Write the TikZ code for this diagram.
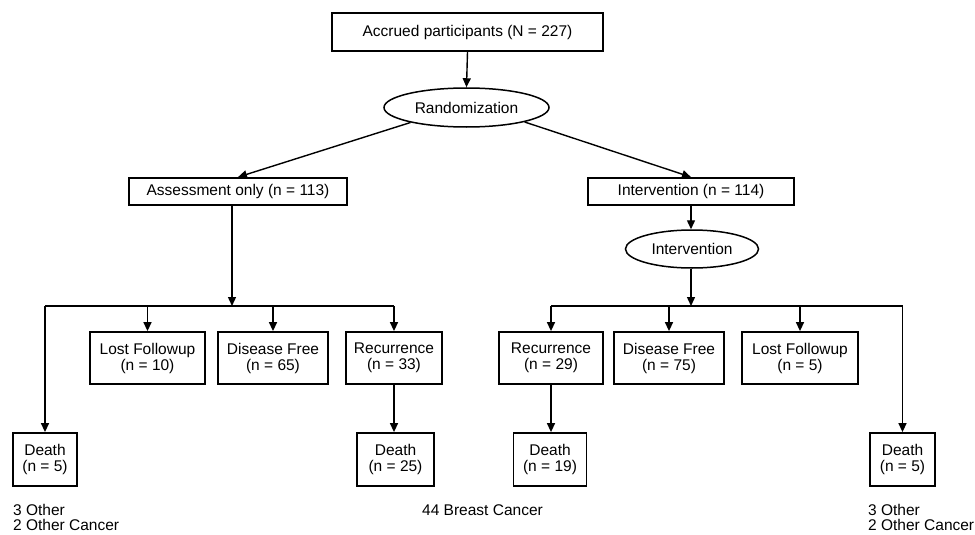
\documentclass[tikz,border=0pt]{standalone}
\usepackage{fontspec}
\setmainfont{Liberation Sans}
\usetikzlibrary{arrows.meta,shapes.geometric}
\begin{document}
\begin{tikzpicture}[x=1pt,y=-1pt,
  font=\fontsize{15.5}{16}\selectfont,
  box/.style={draw,line width=1.8pt,rectangle,inner sep=0pt,align=center},
  oval/.style={draw,line width=1.5pt,ellipse,inner sep=0pt},
  conn/.style={line width=1.4pt},
  arr/.style={conn,-{Triangle[length=9pt,width=8pt]}},
  note/.style={anchor=north west,align=left,inner sep=0pt,font=\fontsize{15.5}{15}\selectfont}]
\useasboundingbox (0,0) rectangle (975,535);
\fill[white] (0,0) rectangle (975,535);
% nodes
\node[box,minimum width=271pt,minimum height=38pt] (top) at (467.5,32) {Accrued participants (N = 227)};
\node[oval,minimum width=165pt,minimum height=39pt] (rand) at (466.5,107.5) {Randomization};
\node[box,minimum width=218pt,minimum height=27pt] (assess) at (238,191.5) {Assessment only (n = 113)};
\node[box,minimum width=206pt,minimum height=27pt] (interv) at (691,191.5) {Intervention (n = 114)};
\node[oval,minimum width=133pt,minimum height=38pt] (iell) at (692,249) {Intervention};
\coordinate (jl) at (232,306);
\coordinate (jr) at (691,306);
\node[box,minimum width=115pt,minimum height=52pt] (lf1) at (147.5,358) {Lost Followup\\(n = 10)};
\node[box,minimum width=110pt,minimum height=52pt] (df1) at (273,358) {Disease Free\\(n = 65)};
\node[box,minimum width=96pt,minimum height=52pt] (r1) at (394,358) {Recurrence\\(n = 33)};
\node[box,minimum width=64pt,minimum height=53pt] (d1) at (45,459.5) {Death\\(n = 5)};
\node[box,minimum width=77pt,minimum height=53pt] (d25) at (395.5,459.5) {Death\\(n = 25)};
\node[box,minimum width=104pt,minimum height=52pt] (r2) at (551,358) {Recurrence\\(n = 29)};
\node[box,minimum width=110pt,minimum height=52pt] (df2) at (669,358) {Disease Free\\(n = 75)};
\node[box,minimum width=116pt,minimum height=52pt] (lf2) at (800,358) {Lost Followup\\(n = 5)};
\node[box,minimum width=73pt,minimum height=53pt] (d19) at (550,459.5) {Death\\(n = 19)};
\node[box,minimum width=65pt,minimum height=53pt] (d5r) at (902.5,459.5) {Death\\(n = 5)};
\node[note] (n1) at (13,504.5) {3 Other\\2 Other Cancer};
\node[note] (n2) at (422,504.5) {44 Breast Cancer};
\node[note] (n3) at (868,504.5) {3 Other\\2 Other Cancer};
% connectors
\draw[arr] (top.south) -- (rand.north);
\draw[arr] (rand.195) -- (assess.north);
\draw[arr] (rand.-14) -- (interv.north);
\draw[arr] (assess.south -| jl) -- (jl);
\draw[conn] (d1.north |- jl) -- (r1.north |- jl);
\draw[arr] (d1.north |- jl) -- (d1.north);
\draw[arr] (lf1.north |- jl) -- (lf1.north);
\draw[arr] (df1.north |- jl) -- (df1.north);
\draw[arr] (r1.north |- jl) -- (r1.north);
\draw[arr] (r1.south) -- (r1.south |- d25.north);
\draw[arr] (interv.south) -- (interv.south |- iell.north);
\draw[arr] (iell.south -| jr) -- (jr);
\draw[conn] (r2.north |- jr) -- (d5r.north |- jr);
\draw[arr] (r2.north |- jr) -- (r2.north);
\draw[arr] (df2.north |- jr) -- (df2.north);
\draw[arr] (lf2.north |- jr) -- (lf2.north);
\draw[arr] (d5r.north |- jr) -- (d5r.north);
\draw[arr] (r2.south) -- (r2.south |- d19.north);
\end{tikzpicture}
\end{document}
